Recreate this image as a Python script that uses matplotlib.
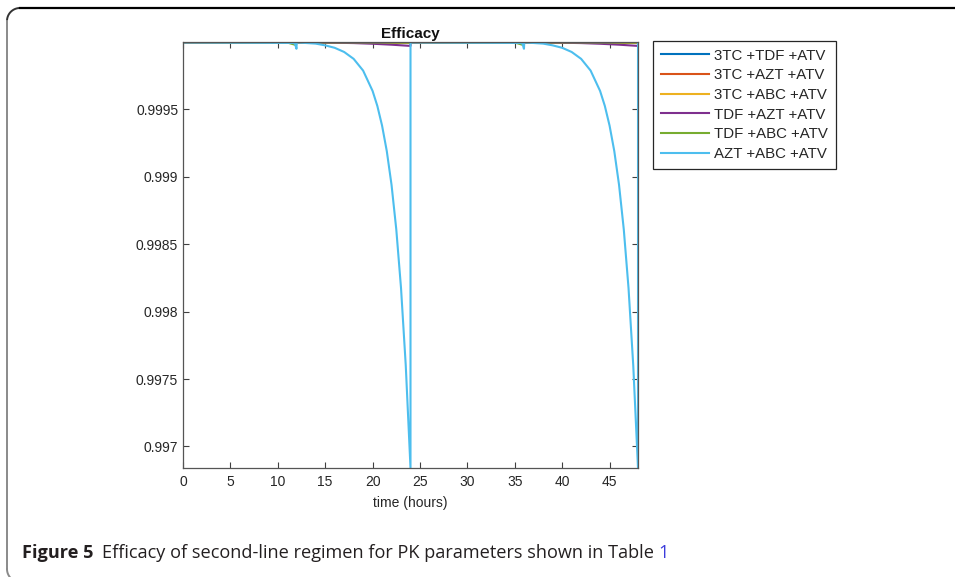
#libraries
import numpy as np
import matplotlib
matplotlib.use('Agg')
import matplotlib.pyplot as plt

# data (time in hours, efficacy)
t_blue = [0, 24, 24, 48, 48]
e_blue = [0.999998, 0.999995, 0.999998, 0.999995, 0.999998]

t_orange = [0, 24, 24, 48, 48]
e_orange = [0.999998, 0.999996, 0.999998, 0.999996, 0.999998]

t_yellow = [0, 24, 24, 48, 48]
e_yellow = [0.999998, 0.999996, 0.999998, 0.999996, 0.999998]

t_purple = [0, 12, 15, 18, 20, 22, 24, 24, 36, 39, 42, 44, 46, 48, 48]
e_purple = [0.999997, 0.999997, 0.999996, 0.999992, 0.999987, 0.999980, 0.999971, 0.999997,
            0.999997, 0.999996, 0.999992, 0.999987, 0.999980, 0.999971, 0.999997]

t_green = [0, 11, 11.9, 12, 24, 24, 35, 35.9, 36, 48, 48]
e_green = [0.999998, 0.999996, 0.999978, 0.999998, 0.999996, 0.999998,
           0.999996, 0.999978, 0.999998, 0.999996, 0.999998]

t_light = [0, 11.5, 11.8, 11.97, 12, 14, 15, 16, 17, 18, 19, 20, 20.5, 21, 21.5, 22, 22.5, 23, 23.5, 24,
           24, 35.5, 35.8, 35.97, 36, 38, 39, 40, 41, 42, 43, 44, 44.5, 45, 45.5, 46, 46.5, 47, 47.5, 48,
           48]
e_light = [0.999997, 0.999993, 0.999990, 0.999950, 0.999997, 0.999988, 0.999975, 0.999957, 0.999926,
           0.999875, 0.999788, 0.999637, 0.999526, 0.999380, 0.999190, 0.998940, 0.998610, 0.998175,
           0.997600, 0.996840,
           0.999997, 0.999993, 0.999990, 0.999950, 0.999997, 0.999988, 0.999975, 0.999957, 0.999926,
           0.999875, 0.999788, 0.999637, 0.999526, 0.999380, 0.999190, 0.998940, 0.998610, 0.998175,
           0.997600, 0.996840,
           0.999997]

labels = ['3TC +TDF +ATV', '3TC +AZT +ATV', '3TC +ABC +ATV',
          'TDF +AZT +ATV', 'TDF +ABC +ATV', 'AZT +ABC +ATV']
colors = ['#0072BD', '#D95319', '#EDB120', '#7E2F8E', '#77AC30', '#4DBEEE']

xticks = [0, 5, 10, 15, 20, 25, 30, 35, 40, 45]
yticks = [0.997, 0.9975, 0.998, 0.9985, 0.999, 0.9995]
ytick_labels = ['0.997', '0.9975', '0.998', '0.9985', '0.999', '0.9995']

plt.rcParams['font.family'] = ['Liberation Sans', 'DejaVu Sans']

W, H = 955, 577
fig = plt.figure(figsize=(W / 100, H / 100), dpi=100)

# page frame and caption, drawn in pixel coordinates
bg = fig.add_axes([0, 0, 1, 1])
bg.set_xlim(0, W)
bg.set_ylim(H, 0)
bg.axis('off')
r = 13
a = np.linspace(np.pi, 1.5 * np.pi, 30)
bg.plot(7 + r + r * np.cos(a), 8 + r + r * np.sin(a), color='#333333', lw=1.4, solid_capstyle='butt')
bg.plot([7, 7], [8 + r, H - 8], color='#8a8a8a', lw=1.4)
bg.plot([7 + r, W + 5], [8, 8], color='black', lw=1.6)
a2 = np.linspace(np.pi, 0.6 * np.pi, 30)
bg.plot(7 + r + r * np.cos(a2), H - 8 + r * np.sin(a2), color='#8a8a8a', lw=1.4)

ax = fig.add_axes([183 / W, 1 - 468 / H, (638 - 183) / W, (468 - 42) / H])
ax.plot(t_blue, e_blue, color=colors[0], lw=1.5, label=labels[0])
ax.plot(t_orange, e_orange, color=colors[1], lw=1.5, label=labels[1])
ax.plot(t_yellow, e_yellow, color=colors[2], lw=1.5, label=labels[2])
ax.plot(t_purple, e_purple, color=colors[3], lw=1.5, label=labels[3])
ax.plot(t_green, e_green, color=colors[4], lw=1.5, label=labels[4])
ax.plot(t_light, e_light, color=colors[5], lw=1.5, label=labels[5])

ax.set_xlim(0, 48)
ax.set_ylim(min(e_light), 1.0)
ax.set_xticks(xticks)
ax.set_yticks(yticks)
ax.set_yticklabels(ytick_labels)
ax.tick_params(direction='in', top=True, right=True, length=4, width=0.8,
               labelsize=10, colors='#404040', labelcolor='#262626')
ax.tick_params(axis='x', pad=5)
ax.tick_params(axis='y', pad=3.5)
for s in ax.spines.values():
    s.set_color('#555555')
    s.set_linewidth(0.9)
ax.set_xlabel('time (hours)', fontsize=10, color='#262626', labelpad=5)
ax.set_title('Efficacy', fontsize=11, fontweight='bold', color='#111111', pad=3)

leg = ax.legend(loc='upper left', bbox_to_anchor=(653 / W, 1 - 41 / H),
                bbox_transform=fig.transFigure, borderaxespad=0, fancybox=False,
                framealpha=1, edgecolor='#262626', fontsize=10.8, handlelength=3.2,
                handletextpad=0.4, labelspacing=0.38, borderpad=0.5)
leg.get_frame().set_linewidth(0.9)
for txt in leg.get_texts():
    txt.set_color('#262626')

# caption
cap_font = ['Open Sans', 'DejaVu Sans']
cap_y = 558
cap_size = 13.1
t1 = bg.text(22, cap_y, 'Figure 5', fontsize=cap_size, fontweight='bold', family=cap_font,
             va='baseline', ha='left', color='#231f20')
fig.canvas.draw()
bb = t1.get_window_extent()
x2 = bb.x1 + 8
t2 = fig.text(x2 / W, 1 - cap_y / H, 'Efficacy of second-line regimen for PK parameters shown in Table ',
              fontsize=cap_size, family=cap_font, va='baseline', ha='left', color='#231f20')
fig.canvas.draw()
bb2 = t2.get_window_extent()
fig.text(bb2.x1 / W, 1 - cap_y / H, '1', fontsize=cap_size, family=cap_font, va='baseline',
         ha='left', color='#3b3bdb')

fig.savefig('out.png', dpi=100)
